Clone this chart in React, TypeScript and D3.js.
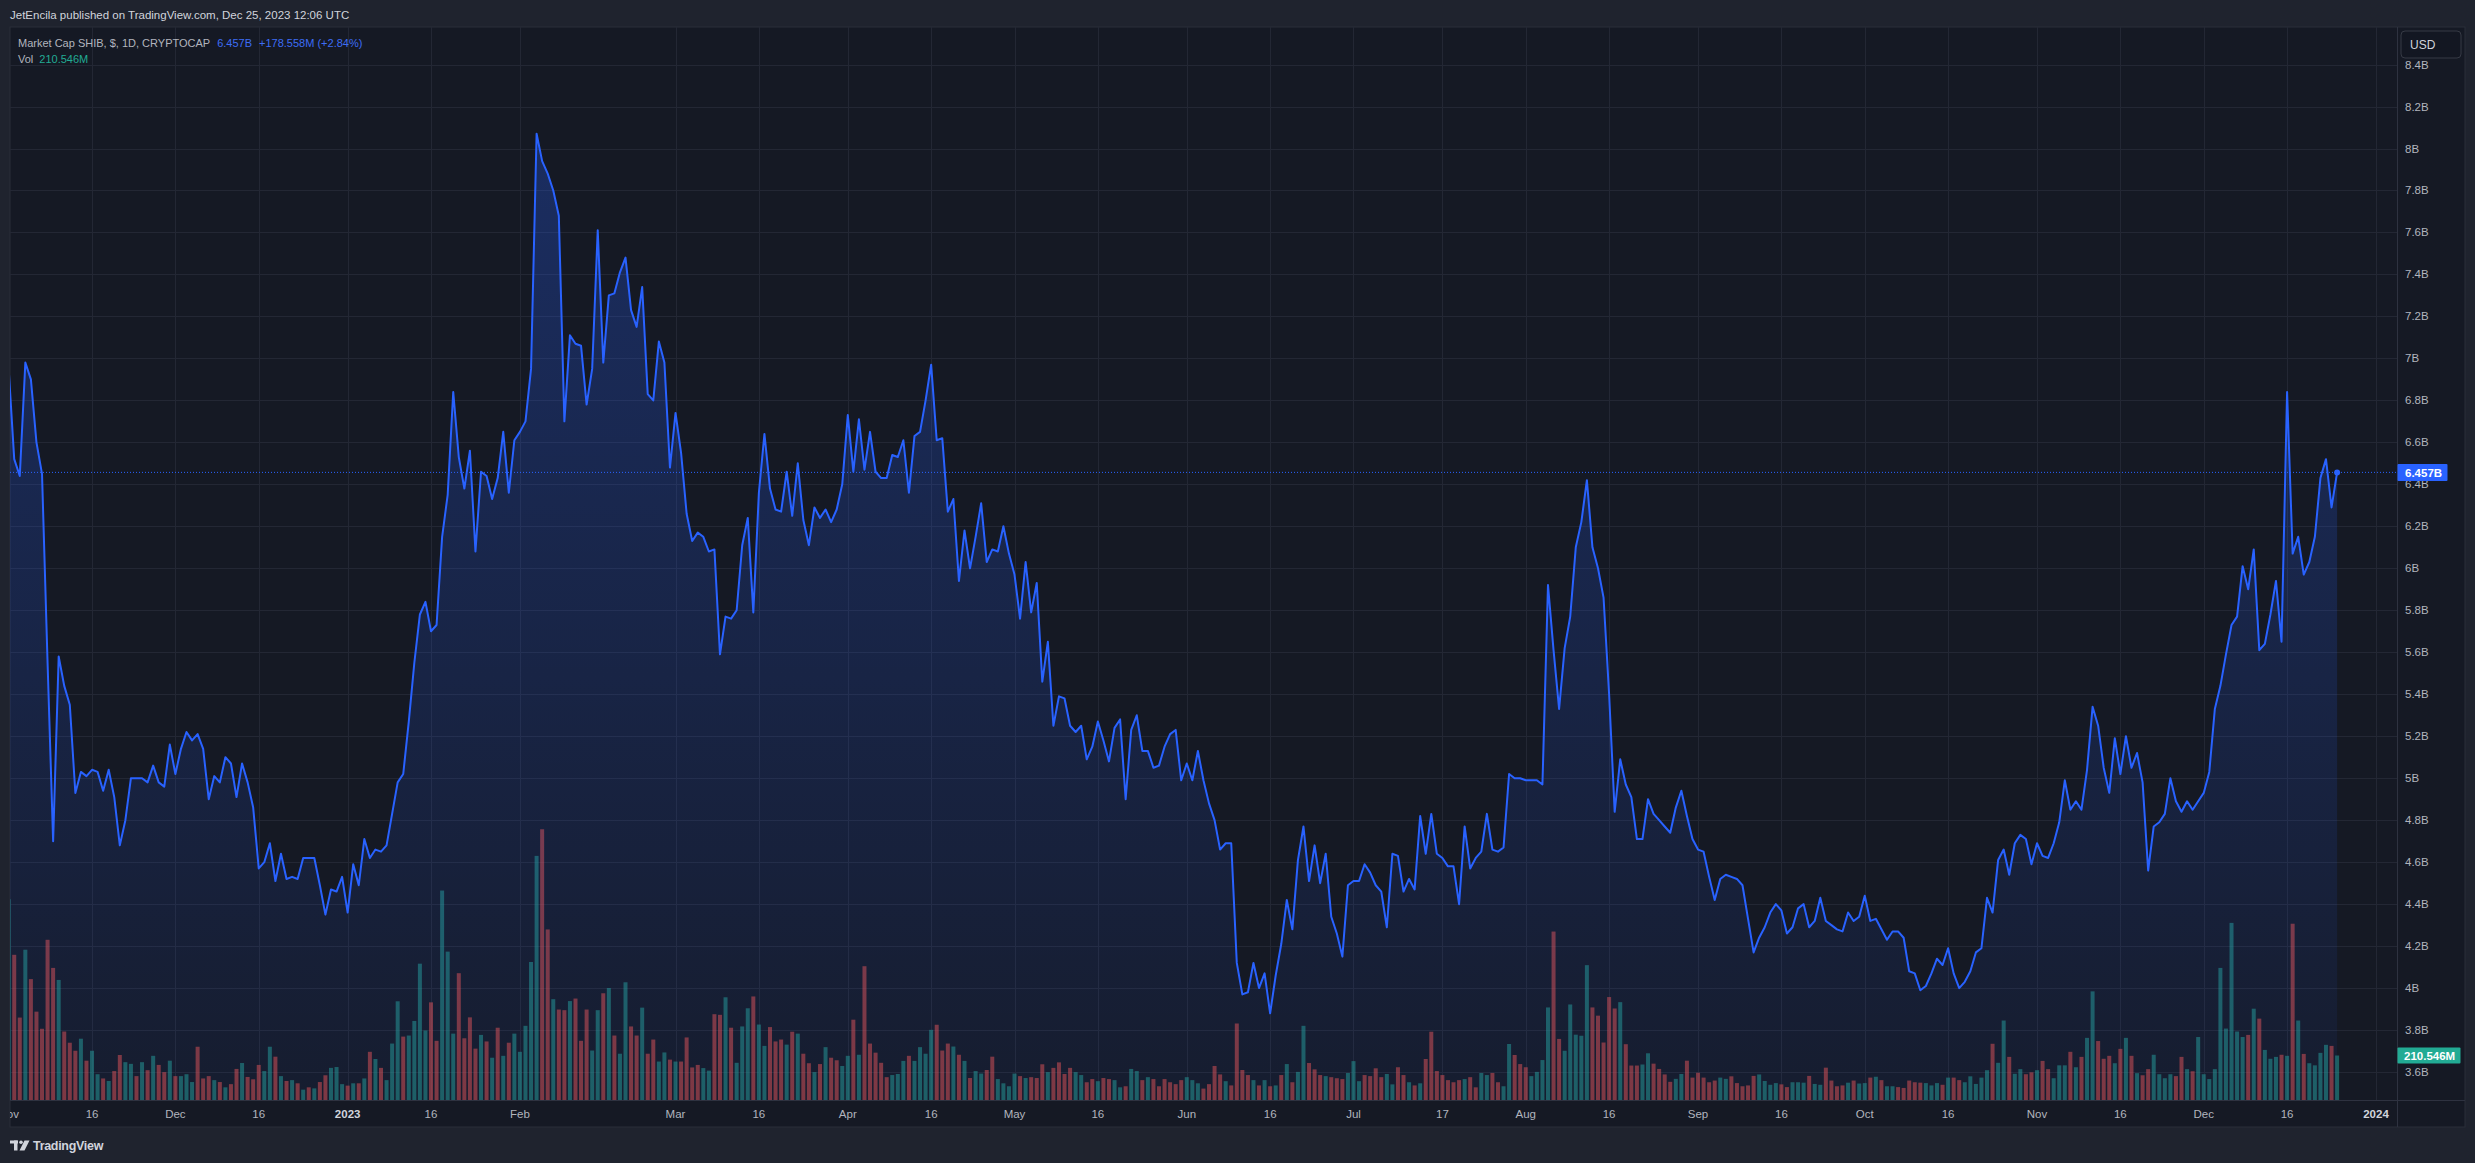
import { useRef, useEffect } from "react";
import * as d3 from "d3";

// SHIB market cap, billions USD, one close per day from 2022-11-01
const priceNov22 = [6.95, 6.52, 6.44, 6.98, 6.9, 6.6, 6.45, 5.55, 4.7, 5.58, 5.44, 5.35, 4.93, 5.03, 5.01, 5.04, 5.03, 4.94, 5.04, 4.91, 4.68, 4.8, 5.0, 5.0, 5.0, 4.98, 5.06, 4.98, 4.96, 5.16];
const priceDec22 = [5.02, 5.14, 5.22, 5.18, 5.21, 5.14, 4.9, 5.01, 4.98, 5.1, 5.07, 4.91, 5.07, 4.98, 4.86, 4.57, 4.6, 4.69, 4.51, 4.64, 4.52, 4.53, 4.52, 4.62, 4.62, 4.62, 4.49, 4.35, 4.47, 4.46, 4.53];
const priceJan23 = [4.36, 4.59, 4.49, 4.71, 4.62, 4.66, 4.65, 4.68, 4.83, 4.98, 5.02, 5.27, 5.55, 5.78, 5.84, 5.7, 5.73, 6.15, 6.35, 6.84, 6.53, 6.38, 6.56, 6.08, 6.46, 6.44, 6.33, 6.43, 6.65, 6.36, 6.61];
const priceFeb23 = [6.65, 6.7, 6.95, 8.07, 7.94, 7.88, 7.8, 7.68, 6.7, 7.11, 7.07, 7.06, 6.78, 6.95, 7.61, 6.98, 7.3, 7.31, 7.41, 7.48, 7.23, 7.15, 7.34, 6.83, 6.8, 7.08, 6.98, 6.48];
const priceMar23 = [6.74, 6.55, 6.26, 6.13, 6.17, 6.15, 6.08, 6.09, 5.59, 5.77, 5.76, 5.8, 6.11, 6.24, 5.79, 6.36, 6.64, 6.38, 6.28, 6.27, 6.46, 6.25, 6.5, 6.23, 6.11, 6.29, 6.24, 6.28, 6.22, 6.28, 6.4];
const priceApr23 = [6.73, 6.46, 6.71, 6.47, 6.65, 6.46, 6.43, 6.43, 6.54, 6.53, 6.61, 6.36, 6.63, 6.65, 6.8, 6.97, 6.61, 6.62, 6.27, 6.33, 5.94, 6.18, 6.0, 6.15, 6.31, 6.03, 6.09, 6.08, 6.2, 6.07];
const priceMay23 = [5.97, 5.76, 6.03, 5.79, 5.93, 5.46, 5.65, 5.25, 5.39, 5.38, 5.25, 5.22, 5.25, 5.09, 5.15, 5.27, 5.18, 5.08, 5.24, 5.28, 4.9, 5.23, 5.3, 5.13, 5.13, 5.05, 5.06, 5.15, 5.21, 5.23, 4.99];
const priceJun23 = [5.07, 4.99, 5.13, 4.99, 4.88, 4.8, 4.66, 4.69, 4.69, 4.12, 3.97, 3.98, 4.12, 4.0, 4.07, 3.88, 4.06, 4.21, 4.42, 4.28, 4.61, 4.77, 4.51, 4.68, 4.5, 4.64, 4.34, 4.26, 4.15, 4.49];
const priceJul23 = [4.51, 4.51, 4.59, 4.55, 4.49, 4.46, 4.29, 4.64, 4.63, 4.46, 4.52, 4.47, 4.82, 4.64, 4.83, 4.64, 4.62, 4.58, 4.58, 4.4, 4.77, 4.57, 4.62, 4.65, 4.83, 4.66, 4.65, 4.67, 5.02, 5.0, 5.0];
const priceAug23 = [4.99, 4.99, 4.99, 4.97, 5.92, 5.61, 5.33, 5.62, 5.77, 6.1, 6.22, 6.42, 6.1, 6.0, 5.86, 5.4, 4.84, 5.09, 4.97, 4.91, 4.71, 4.71, 4.9, 4.83, 4.8, 4.77, 4.74, 4.86, 4.94, 4.82, 4.71];
const priceSep23 = [4.66, 4.65, 4.53, 4.42, 4.52, 4.54, 4.53, 4.52, 4.49, 4.33, 4.17, 4.24, 4.29, 4.36, 4.4, 4.37, 4.26, 4.29, 4.38, 4.4, 4.29, 4.32, 4.43, 4.32, 4.3, 4.28, 4.27, 4.36, 4.32, 4.34];
const priceOct23 = [4.44, 4.32, 4.33, 4.28, 4.23, 4.27, 4.27, 4.24, 4.08, 4.07, 3.99, 4.01, 4.07, 4.14, 4.11, 4.19, 4.07, 4.0, 4.03, 4.08, 4.17, 4.19, 4.43, 4.36, 4.61, 4.66, 4.54, 4.69, 4.73, 4.71, 4.59];
const priceNov23 = [4.69, 4.63, 4.62, 4.69, 4.79, 4.99, 4.85, 4.89, 4.85, 5.04, 5.34, 5.25, 5.05, 4.93, 5.19, 5.02, 5.2, 5.05, 5.12, 4.98, 4.56, 4.77, 4.79, 4.83, 5.0, 4.89, 4.84, 4.89, 4.85, 4.89];
const priceDec23 = [4.93, 5.03, 5.33, 5.44, 5.59, 5.73, 5.77, 6.01, 5.9, 6.09, 5.61, 5.64, 5.78, 5.94, 5.65, 6.84, 6.07, 6.15, 5.97, 6.03, 6.15, 6.43, 6.52, 6.29, 6.457];

// daily volume, millions USD
const volNov22 = [950, 687, 390, 711, 572, 418, 337, 758, 625, 568, 324, 271, 233, 290, 186, 233, 122, 102, 90, 137, 213, 179, 171, 113, 179, 141, 209, 166, 132, 186];
const volDec22 = [113, 113, 122, 85, 252, 102, 113, 94, 85, 60, 75, 147, 175, 109, 98, 166, 137, 252, 205, 113, 90, 94, 79, 49, 60, 55, 85, 117, 152, 156, 75];
const volJan23 = [68, 79, 79, 102, 228, 194, 152, 94, 267, 467, 300, 305, 374, 645, 329, 462, 280, 991, 702, 314, 600, 292, 391, 243, 308, 277, 200, 342, 209, 271, 314];
const volFeb23 = [228, 351, 653, 1155, 1281, 807, 477, 428, 425, 468, 480, 280, 428, 234, 425, 505, 530, 305, 219, 557, 348, 305, 437, 219, 286, 182, 225, 191];
const volMar23 = [182, 182, 296, 154, 166, 151, 139, 406, 403, 486, 342, 176, 348, 434, 490, 357, 256, 345, 277, 286, 262, 323, 314, 219, 174, 132, 170, 250, 200, 188, 161];
const volApr23 = [209, 380, 214, 633, 267, 224, 176, 108, 118, 123, 185, 209, 185, 250, 219, 332, 356, 234, 267, 253, 214, 185, 104, 137, 125, 142, 205, 99, 79, 65];
const volMay23 = [125, 113, 104, 108, 104, 169, 132, 152, 178, 123, 152, 132, 118, 84, 99, 89, 104, 99, 94, 60, 65, 147, 137, 94, 108, 99, 65, 99, 84, 75, 94];
const volJun23 = [108, 94, 79, 54, 75, 161, 121, 89, 69, 362, 142, 118, 94, 69, 94, 65, 69, 118, 170, 84, 133, 351, 175, 145, 118, 113, 108, 103, 99, 128];
const volJul23 = [184, 89, 118, 113, 150, 108, 123, 74, 155, 118, 84, 69, 79, 194, 323, 137, 118, 94, 84, 94, 99, 108, 60, 128, 118, 128, 84, 65, 265, 213, 170];
const volAug23 = [155, 113, 133, 189, 438, 797, 289, 233, 452, 309, 304, 638, 438, 399, 272, 487, 433, 463, 264, 163, 163, 168, 221, 172, 147, 121, 86, 100, 123, 186, 106];
const volSep23 = [129, 106, 84, 92, 106, 100, 112, 80, 65, 69, 114, 121, 90, 72, 80, 74, 61, 84, 84, 82, 114, 76, 72, 153, 92, 65, 69, 82, 92, 78];
const volOct23 = [80, 106, 110, 94, 65, 65, 61, 57, 92, 84, 82, 80, 69, 80, 72, 106, 106, 94, 84, 112, 76, 106, 141, 266, 176, 376, 204, 124, 146, 122, 131];
const volNov23 = [141, 185, 146, 103, 164, 164, 228, 155, 204, 294, 514, 279, 195, 209, 174, 242, 294, 209, 127, 117, 146, 214, 122, 103, 122, 113, 204, 146, 136, 298];
const volDec23 = [122, 99, 146, 625, 338, 838, 324, 298, 308, 432, 385, 237, 195, 204, 214, 209, 834, 376, 218, 174, 164, 223, 261, 256, 210.546];

// volume bar colour per day: g = up candle, r = down candle
const dirNov22 = "grrgrrrrrgrrrgrggrgrrggrgrgrrg";
const dirDec22 = "rgggrrrgrgrrgrrrggrgrgrgrgrrggg";
const dirJan23 = "rgrgrgrgggrggggrrgggrrrrgrgrgrg";
const dirFeb23 = "ggggrrgrrgrrrggrgrggrrgrrggr";
const dirMar23 = "grrrrggrrgrgggrggrrrgrgrrgrgrrg";
const dirApr23 = "grgrrrrrgggrggggrrrgrgrggrrggg";
const dirMay23 = "grgrrrgrrrrggrrgrrggrggrgrrrrrr";
const dirJun23 = "gggrrrrgrrrrgrgrgrgrggrrrgrrrg";
const dirJul23 = "ggrrrrggrrgrgrrrrrrrgrrggrrggrr";
const dirAug23 = "rggggrrgggggrrrrrgrrrggrrrrggrr";
const dirSep23 = "rrrrggrrrrrggggrrgggrggrrrrgrg";
const dirOct23 = "grgrggrrrrrgggrgrrgggggrggrggrr";
const dirNov23 = "grrgggrgrggrrrgrgrgrrggggrrgrg";
const dirDec23 = "ggggggggrgrgggrgrgrggggrg";

const months = [
  [priceNov22, volNov22, dirNov22],
  [priceDec22, volDec22, dirDec22],
  [priceJan23, volJan23, dirJan23],
  [priceFeb23, volFeb23, dirFeb23],
  [priceMar23, volMar23, dirMar23],
  [priceApr23, volApr23, dirApr23],
  [priceMay23, volMay23, dirMay23],
  [priceJun23, volJun23, dirJun23],
  [priceJul23, volJul23, dirJul23],
  [priceAug23, volAug23, dirAug23],
  [priceSep23, volSep23, dirSep23],
  [priceOct23, volOct23, dirOct23],
  [priceNov23, volNov23, dirNov23],
  [priceDec23, volDec23, dirDec23],
] as [number[], number[], string][];

const timeTicks: [string, string][] = [
  ["2022-11-01", "Nov"], ["2022-11-16", "16"], ["2022-12-01", "Dec"], ["2022-12-16", "16"],
  ["2023-01-01", "2023"], ["2023-01-16", "16"], ["2023-02-01", "Feb"], ["2023-03-01", "Mar"],
  ["2023-03-16", "16"], ["2023-04-01", "Apr"], ["2023-04-16", "16"], ["2023-05-01", "May"],
  ["2023-05-16", "16"], ["2023-06-01", "Jun"], ["2023-06-16", "16"], ["2023-07-01", "Jul"],
  ["2023-07-17", "17"], ["2023-08-01", "Aug"], ["2023-08-16", "16"], ["2023-09-01", "Sep"],
  ["2023-09-16", "16"], ["2023-10-01", "Oct"], ["2023-10-16", "16"], ["2023-11-01", "Nov"],
  ["2023-11-16", "16"], ["2023-12-01", "Dec"], ["2023-12-16", "16"], ["2024-01-01", "2024"],
];

const priceTicks = [3.6, 3.8, 4, 4.2, 4.4, 4.6, 4.8, 5, 5.2, 5.4, 5.6, 5.8, 6, 6.2, 6.4, 6.6, 6.8, 7, 7.2, 7.4, 7.6, 7.8, 8, 8.2, 8.4];

const lastPrice = "6.457B";
const lastChange = "+178.558M (+2.84%)";
const lastVol = "210.546M";

type Day = { date: Date; price: number; vol: number; up: boolean };

const W = 2475;
const H = 1163;
const FONT = "'Liberation Sans', Arial, sans-serif";

export default function App() {
  const ref = useRef<SVGSVGElement>(null);

  useEffect(() => {
    if (!ref.current) return;
    const svg = d3.select(ref.current);
    svg.selectAll("*").remove();

    // flatten months into days
    const start = new Date(Date.UTC(2022, 10, 1));
    const days: Day[] = [];
    months.forEach(([p, v, dir]) => {
      p.forEach((price, i) => {
        days.push({
          date: d3.utcDay.offset(start, days.length),
          price,
          vol: v[i],
          up: dir[i] === "g",
        });
      });
    });
    const last = days[days.length - 1];

    // layout
    const plot = { left: 10, right: 2397.5, top: 27, bottom: 1100 };
    const panel = { left: 10, right: 2465, top: 27, bottom: 1127 };

    const x = d3
      .scaleUtc()
      .domain([start, new Date(Date.UTC(2024, 0, 1))])
      .range([8.67, 2376]);
    const y = d3.scaleLinear().domain([6, 8]).range([568.3, 148.5]);
    const yVol = d3
      .scaleLinear()
      .domain([0, 210.546])
      .range([plot.bottom, plot.bottom - 44.5]);

    // page background
    svg.append("rect").attr("width", W).attr("height", H).attr("fill", "#1f232e");
    svg
      .append("rect")
      .attr("x", panel.left)
      .attr("y", panel.top)
      .attr("width", panel.right - panel.left)
      .attr("height", panel.bottom - panel.top)
      .attr("fill", "#151924")
      .attr("stroke", "#2a2e39");

    const defs = svg.append("defs");
    defs
      .append("clipPath")
      .attr("id", "plot-clip")
      .append("rect")
      .attr("x", plot.left)
      .attr("y", plot.top)
      .attr("width", plot.right - plot.left)
      .attr("height", plot.bottom - plot.top);
    defs
      .append("clipPath")
      .attr("id", "time-clip")
      .append("rect")
      .attr("x", plot.left)
      .attr("y", plot.bottom)
      .attr("width", plot.right - plot.left)
      .attr("height", panel.bottom - plot.bottom);

    const maxPrice = d3.max(days, (d) => d.price) as number;
    const grad = defs
      .append("linearGradient")
      .attr("id", "area-fill")
      .attr("gradientUnits", "userSpaceOnUse")
      .attr("x1", 0)
      .attr("x2", 0)
      .attr("y1", y(maxPrice))
      .attr("y2", plot.bottom);
    grad.append("stop").attr("offset", 0).attr("stop-color", "#2962ff").attr("stop-opacity", 0.28);
    grad.append("stop").attr("offset", 1).attr("stop-color", "#2962ff").attr("stop-opacity", 0.05);

    // grid
    const grid = svg.append("g").attr("stroke", "#232734").attr("stroke-width", 1);
    priceTicks.forEach((t) => {
      grid
        .append("line")
        .attr("x1", plot.left)
        .attr("x2", plot.right)
        .attr("y1", Math.round(y(t)) + 0.5)
        .attr("y2", Math.round(y(t)) + 0.5);
    });
    timeTicks.forEach(([d]) => {
      const xp = Math.round(x(new Date(d + "T00:00:00Z"))) + 0.5;
      if (xp < plot.left) return;
      grid.append("line").attr("x1", xp).attr("x2", xp).attr("y1", plot.top).attr("y2", plot.bottom);
    });

    const g = svg.append("g").attr("clip-path", "url(#plot-clip)");

    // volume bars
    g.append("g")
      .selectAll("rect")
      .data(days)
      .join("rect")
      .attr("x", (d) => x(d.date) - 2)
      .attr("width", 4)
      .attr("y", (d) => yVol(d.vol))
      .attr("height", (d) => plot.bottom - yVol(d.vol))
      .attr("fill", (d) => (d.up ? "rgba(38,166,154,0.5)" : "rgba(239,83,80,0.5)"));

    // area + line
    const area = d3
      .area<Day>()
      .x((d) => x(d.date))
      .y0(plot.bottom)
      .y1((d) => y(d.price));
    g.append("path").datum(days).attr("fill", "url(#area-fill)").attr("d", area);

    const line = d3
      .line<Day>()
      .x((d) => x(d.date))
      .y((d) => y(d.price));
    g.append("path")
      .datum(days)
      .attr("fill", "none")
      .attr("stroke", "#2962ff")
      .attr("stroke-width", 2)
      .attr("stroke-linejoin", "round")
      .attr("d", line);

    // last price dotted line and marker
    g.append("line")
      .attr("x1", plot.left)
      .attr("x2", plot.right)
      .attr("y1", y(last.price))
      .attr("y2", y(last.price))
      .attr("stroke", "#2962ff")
      .attr("stroke-width", 1)
      .attr("stroke-dasharray", "1 2");
    g.append("circle")
      .attr("cx", x(last.date))
      .attr("cy", y(last.price))
      .attr("r", 3)
      .attr("fill", "#2962ff");

    // axis borders
    svg
      .append("line")
      .attr("x1", plot.right)
      .attr("x2", plot.right)
      .attr("y1", panel.top)
      .attr("y2", panel.bottom)
      .attr("stroke", "#2e3240");
    svg
      .append("line")
      .attr("x1", panel.left)
      .attr("x2", panel.right)
      .attr("y1", plot.bottom + 0.5)
      .attr("y2", plot.bottom + 0.5)
      .attr("stroke", "#2e3240");

    // price axis labels
    const pAxis = svg
      .append("g")
      .attr("font-family", FONT)
      .attr("font-size", 11.5)
      .attr("fill", "#b2b5be");
    priceTicks.forEach((t) => {
      pAxis
        .append("text")
        .attr("x", 2405)
        .attr("y", y(t) + 4)
        .text(`${+t.toFixed(1)}B`);
    });

    // USD button
    svg
      .append("rect")
      .attr("x", 2401)
      .attr("y", 31)
      .attr("width", 60)
      .attr("height", 27)
      .attr("rx", 4)
      .attr("fill", "#131722")
      .attr("stroke", "#363a45");
    svg
      .append("text")
      .attr("x", 2410)
      .attr("y", 48.5)
      .attr("font-family", FONT)
      .attr("font-size", 12)
      .attr("fill", "#d1d4dc")
      .text("USD");

    // last price badge
    svg
      .append("rect")
      .attr("x", plot.right)
      .attr("y", y(last.price) - 8.5)
      .attr("width", 50)
      .attr("height", 17)
      .attr("rx", 1)
      .attr("fill", "#2962ff");
    svg
      .append("text")
      .attr("x", 2405)
      .attr("y", y(last.price) + 4.5)
      .attr("font-family", FONT)
      .attr("font-size", 11.5)
      .attr("font-weight", "bold")
      .attr("fill", "#ffffff")
      .text(lastPrice);

    // last volume badge
    svg
      .append("rect")
      .attr("x", plot.right)
      .attr("y", yVol(last.vol) - 8)
      .attr("width", 63)
      .attr("height", 16)
      .attr("rx", 1)
      .attr("fill", "#22ab94");
    svg
      .append("text")
      .attr("x", 2404)
      .attr("y", yVol(last.vol) + 4.5)
      .attr("font-family", FONT)
      .attr("font-size", 11.5)
      .attr("font-weight", "bold")
      .attr("fill", "#ffffff")
      .text(lastVol);

    // time axis labels
    const tAxis = svg
      .append("g")
      .attr("clip-path", "url(#time-clip)")
      .attr("font-family", FONT)
      .attr("font-size", 11.5)
      .attr("text-anchor", "middle");
    timeTicks.forEach(([d, label]) => {
      const isYear = label.length === 4;
      tAxis
        .append("text")
        .attr("x", x(new Date(d + "T00:00:00Z")))
        .attr("y", 1118)
        .attr("fill", isYear ? "#d1d4dc" : "#b2b5be")
        .attr("font-weight", isYear ? "bold" : "normal")
        .text(label);
    });

    // header
    svg
      .append("text")
      .attr("x", 10)
      .attr("y", 19)
      .attr("font-family", FONT)
      .attr("font-size", 11.5)
      .attr("fill", "#d1d4dc")
      .text("JetEncila published on TradingView.com, Dec 25, 2023 12:06 UTC");

    // legend
    const legend = svg.append("g").attr("font-family", FONT).attr("font-size", 11);
    const row1 = legend.append("text").attr("x", 18).attr("y", 46.5);
    row1.append("tspan").attr("fill", "#b2b5be").text("Market Cap SHIB, $, 1D, CRYPTOCAP");
    row1.append("tspan").attr("dx", 7).attr("fill", "#3d6df5").text(lastPrice);
    row1.append("tspan").attr("dx", 7).attr("fill", "#3d6df5").text(lastChange);
    const row2 = legend.append("text").attr("x", 18).attr("y", 63);
    row2.append("tspan").attr("fill", "#b2b5be").text("Vol");
    row2.append("tspan").attr("dx", 6).attr("fill", "#22ab94").text(lastVol);

    // footer logo
    const logo = svg.append("g").attr("fill", "#d1d4dc");
    logo.append("rect").attr("x", 10).attr("y", 1140.5).attr("width", 8).attr("height", 3);
    logo.append("rect").attr("x", 14).attr("y", 1140.5).attr("width", 3.5).attr("height", 10);
    logo.append("circle").attr("cx", 21).attr("cy", 1142.2).attr("r", 1.8);
    logo.append("path").attr("d", "M24.5,1140.5 L29.5,1140.5 L24.5,1150.5 L19.5,1150.5 Z");
    svg
      .append("text")
      .attr("x", 33)
      .attr("y", 1150)
      .attr("font-family", FONT)
      .attr("font-size", 12.5)
      .attr("font-weight", "bold")
      .attr("fill", "#d1d4dc")
      .attr("letter-spacing", -0.3)
      .text("TradingView");
  }, []);

  return (
    <svg
      ref={ref}
      width={W}
      height={H}
      style={{ position: "absolute", left: 0, top: 0, display: "block" }}
    />
  );
}
